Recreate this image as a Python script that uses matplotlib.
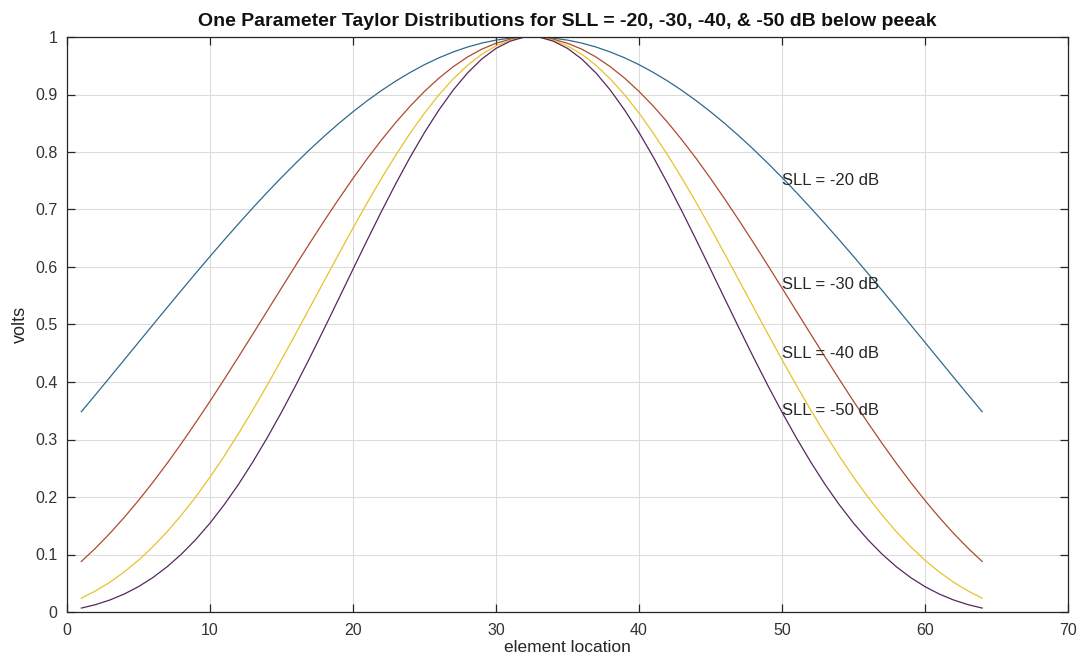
import matplotlib
matplotlib.use("Agg")
import matplotlib.pyplot as plt
from matplotlib.ticker import MultipleLocator, FuncFormatter

plt.rcParams['font.family'] = ['Liberation Sans', 'DejaVu Sans']

# element index 1..64
elements = list(range(1, 65))

sll_20 = [0.3482, 0.3781, 0.4082, 0.4385, 0.4689, 0.4992, 0.5294, 0.5594, 0.5891, 0.6184,
          0.6472, 0.6754, 0.7030, 0.7298, 0.7557, 0.7807, 0.8048, 0.8277, 0.8495, 0.8700,
          0.8892, 0.9071, 0.9235, 0.9384, 0.9519, 0.9637, 0.9739, 0.9825, 0.9894, 0.9946,
          0.9980, 1.0000, 1.0000, 0.9980, 0.9946, 0.9894, 0.9825, 0.9739, 0.9637, 0.9519,
          0.9384, 0.9235, 0.9071, 0.8892, 0.8700, 0.8495, 0.8277, 0.8048, 0.7807, 0.7557,
          0.7298, 0.7030, 0.6754, 0.6472, 0.6184, 0.5891, 0.5594, 0.5294, 0.4992, 0.4689,
          0.4385, 0.4082, 0.3781, 0.3482]

sll_30 = [0.0878, 0.1112, 0.1368, 0.1644, 0.1940, 0.2254, 0.2585, 0.2932, 0.3293, 0.3666,
          0.4049, 0.4440, 0.4836, 0.5235, 0.5635, 0.6032, 0.6424, 0.6808, 0.7181, 0.7541,
          0.7886, 0.8211, 0.8516, 0.8798, 0.9054, 0.9283, 0.9482, 0.9651, 0.9788, 0.9891,
          0.9961, 1.0000, 1.0000, 0.9961, 0.9891, 0.9788, 0.9651, 0.9482, 0.9283, 0.9054,
          0.8798, 0.8516, 0.8211, 0.7886, 0.7541, 0.7181, 0.6808, 0.6424, 0.6032, 0.5635,
          0.5235, 0.4836, 0.4440, 0.4049, 0.3666, 0.3293, 0.2932, 0.2585, 0.2254, 0.1940,
          0.1644, 0.1368, 0.1112, 0.0878]

sll_40 = [0.0240, 0.0367, 0.0518, 0.0696, 0.0901, 0.1134, 0.1395, 0.1685, 0.2002, 0.2345,
          0.2713, 0.3106, 0.3516, 0.3945, 0.4388, 0.4842, 0.5302, 0.5765, 0.6225, 0.6678,
          0.7120, 0.7545, 0.7949, 0.8328, 0.8677, 0.8992, 0.9270, 0.9506, 0.9699, 0.9845,
          0.9944, 1.0000, 1.0000, 0.9944, 0.9845, 0.9699, 0.9506, 0.9270, 0.8992, 0.8677,
          0.8328, 0.7949, 0.7545, 0.7120, 0.6678, 0.6225, 0.5765, 0.5302, 0.4842, 0.4388,
          0.3945, 0.3516, 0.3106, 0.2713, 0.2345, 0.2002, 0.1685, 0.1395, 0.1134, 0.0901,
          0.0696, 0.0518, 0.0367, 0.0240]

sll_50 = [0.0068, 0.0128, 0.0209, 0.0312, 0.0441, 0.0598, 0.0786, 0.1006, 0.1259, 0.1546,
          0.1868, 0.2223, 0.2612, 0.3030, 0.3475, 0.3944, 0.4432, 0.4935, 0.5447, 0.5961,
          0.6471, 0.6971, 0.7453, 0.7912, 0.8339, 0.8728, 0.9075, 0.9372, 0.9616, 0.9802,
          0.9928, 1.0000, 1.0000, 0.9928, 0.9802, 0.9616, 0.9372, 0.9075, 0.8728, 0.8339,
          0.7912, 0.7453, 0.6971, 0.6471, 0.5961, 0.5447, 0.4935, 0.4432, 0.3944, 0.3475,
          0.3030, 0.2612, 0.2223, 0.1868, 0.1546, 0.1259, 0.1006, 0.0786, 0.0598, 0.0441,
          0.0312, 0.0209, 0.0128, 0.0068]

series = [sll_20, sll_30, sll_40, sll_50]
colors = ['#2f6a8c', '#b04a2e', '#e8c22c', '#55285f']

label_texts = ['SLL = -20 dB', 'SLL = -30 dB', 'SLL = -40 dB', 'SLL = -50 dB']
label_x = [50, 50, 50, 50]
label_y = [0.75, 0.57, 0.45, 0.35]

title = 'One Parameter Taylor Distributions for SLL = -20, -30, -40, & -50 dB below peeak'

fig = plt.figure(figsize=(10.81, 6.58), dpi=100)
ax = fig.add_axes([67/1081, 1 - 612/658, (1068-67)/1081, (612-37)/658])

for vals, c in zip(series, colors):
    ax.plot(elements, vals, color=c, linewidth=0.9)

for t, x, y in zip(label_texts, label_x, label_y):
    ax.text(x, y, t, fontsize=12, color='#262626', ha='left', va='center')

ax.set_xlim(0, 70)
ax.set_ylim(0, 1)
ax.xaxis.set_major_locator(MultipleLocator(10))
ax.yaxis.set_major_locator(MultipleLocator(0.1))
ax.yaxis.set_major_formatter(FuncFormatter(lambda v, p: '%g' % round(v, 2)))

ax.grid(True, color='#dcdcdc', linewidth=0.8)
ax.set_axisbelow(True)
for sp in ax.spines.values():
    sp.set_color('#262626')
    sp.set_linewidth(0.9)
ax.tick_params(direction='in', length=6, width=0.9, color='#262626',
               top=True, right=True, labelsize=11.5, labelcolor='#333333')
ax.tick_params(axis='x', pad=8)
ax.tick_params(axis='y', pad=7)

ax.set_xlabel('element location', fontsize=12.5, color='#262626', labelpad=1)
ax.set_ylabel('volts', fontsize=13, color='#262626', labelpad=4)
ax.set_title(title, fontsize=14, fontweight='bold', color='#111111', pad=8)

fig.savefig('out.png', dpi=100)
